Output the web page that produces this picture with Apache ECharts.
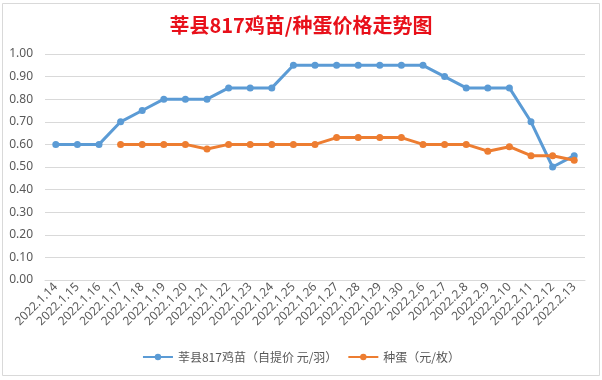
<!DOCTYPE html>
<html><head><meta charset="utf-8">
<script src="https://cdn.jsdelivr.net/npm/echarts@6/dist/echarts.min.js"></script>
<style>html,body{margin:0;padding:0;background:#fff}#c{width:602px;height:380px}</style>
</head><body><div id="c"></div>
<script>
const categories = ['2022.1.14','2022.1.15','2022.1.16','2022.1.17','2022.1.18','2022.1.19','2022.1.20','2022.1.21','2022.1.22','2022.1.23','2022.1.24','2022.1.25','2022.1.26','2022.1.27','2022.1.28','2022.1.29','2022.1.30','2022.2.6','2022.2.7','2022.2.8','2022.2.9','2022.2.10','2022.2.11','2022.2.12','2022.2.13'];
const chickPrice = [0.60,0.60,0.60,0.70,0.75,0.80,0.80,0.80,0.85,0.85,0.85,0.95,0.95,0.95,0.95,0.95,0.95,0.95,0.90,0.85,0.85,0.85,0.70,0.50,0.55];
const eggPrice = [null,null,null,0.60,0.60,0.60,0.60,0.58,0.60,0.60,0.60,0.60,0.60,0.63,0.63,0.63,0.63,0.60,0.60,0.60,0.57,0.59,0.55,0.55,0.53];
const seriesNames = ['莘县817鸡苗（自提价 元/羽）','种蛋（元/枚）'];
const titleText = '莘县817鸡苗/种蛋价格走势图';

const chart = echarts.init(document.getElementById('c'));
const txt = '#595959';
chart.setOption({
  animation: false,
  backgroundColor: '#fff',
  graphic: [{type:'rect', shape:{x:2.5,y:3.5,width:597,height:372}, style:{fill:'none', stroke:'#d9d9d9', lineWidth:1}, silent:true}],
  title: {text: titleText, left: 'center', top: 10,
    textStyle: {color:'#e8101a', fontSize: 20, fontWeight:'bold', fontFamily:'"Noto Sans CJK SC", sans-serif'}},
  legend: {bottom: 12, left: 'center', itemWidth: 30, itemHeight: 8, itemGap: 10,
    textStyle: {color: txt, fontSize: 12, fontFamily:'"Noto Sans CJK SC", sans-serif'},
    data: seriesNames},
  grid: {left: 45, right: 17, top: 54, bottom: 100, containLabel: false},
  xAxis: {type:'category', data: categories, boundaryGap: true,
    axisLine:{lineStyle:{color:'#d9d9d9'}}, axisTick:{show:false},
    axisLabel:{color: txt, fontSize: 12, rotate: 45, interval: 0, margin: 5, fontFamily:'"Noto Sans", sans-serif'}},
  yAxis: {type:'value', min:0, max:1, interval:0.1,
    axisLine:{show:false}, axisTick:{show:false},
    splitLine:{lineStyle:{color:'#d9d9d9'}},
    axisLabel:{color: txt, fontSize: 12, margin: 12, formatter: v => v.toFixed(2), fontFamily:'"Noto Sans", sans-serif'}},
  series: [
    {name: seriesNames[0], type:'line', data: chickPrice, symbol:'circle', symbolSize:7,
      lineStyle:{width:3, color:'#5b9bd5'}, itemStyle:{color:'#5b9bd5'}},
    {name: seriesNames[1], type:'line', data: eggPrice, symbol:'circle', symbolSize:7,
      lineStyle:{width:3, color:'#ed7d31'}, itemStyle:{color:'#ed7d31'}}
  ]
});
</script></body></html>
